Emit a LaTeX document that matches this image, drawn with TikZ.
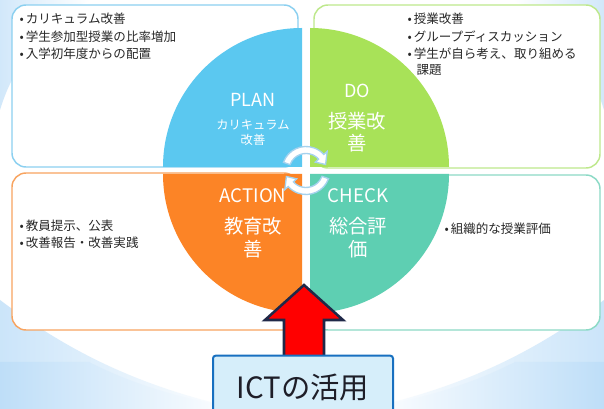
\documentclass[tikz,border=0pt]{standalone}
\usepackage{fontspec}
\setmainfont{Noto Sans CJK JP}

\definecolor{planblue}{RGB}{91,200,240}
\definecolor{dogreen}{RGB}{168,226,88}
\definecolor{actorange}{RGB}{252,132,38}
\definecolor{checkteal}{RGB}{94,207,178}
\definecolor{planedge}{RGB}{140,208,240}
\definecolor{doedge}{RGB}{190,232,140}
\definecolor{actedge}{RGB}{248,164,96}
\definecolor{checkedge}{RGB}{140,218,198}
\definecolor{bgblue}{RGB}{190,222,248}
\definecolor{cycleblue}{RGB}{165,210,238}
\definecolor{ictfill}{RGB}{214,238,250}
\definecolor{ictedge}{RGB}{24,112,192}
\definecolor{arrowedge}{RGB}{32,40,72}
\definecolor{textgray}{RGB}{40,40,40}

\tikzset{every picture/.style={line width=0.75pt}}
\tikzset{
  listbox/.style={draw=#1, fill=white, rounded corners=10.5pt, line width=1.1pt},
  quarter/.style={fill=#1, draw=none},
  itemtext/.style={anchor=west, inner sep=0pt, text=textgray, font=\fontsize{9.4}{11}\selectfont},
  phase/.style={text=white, inner sep=0pt, font=\fontsize{#1}{16}\selectfont},
  phasejp/.style={text=white, inner sep=0pt, align=center, font=\fontsize{14.5}{17}\selectfont},
  cyclearrow/.style={fill=white, draw=cycleblue, line width=1pt},
}

\begin{document}
\begin{tikzpicture}[x=0.75pt,y=0.75pt,yscale=-1,xscale=1]
\useasboundingbox (0,0) rectangle (604,409);
\clip (0,0) rectangle (604,409);

%Background
\fill[white] (0,0) rectangle (604,409);
\shade[left color=bgblue!70, right color=white] (0,0) -- (90,0) .. controls (50,20) and (15,60) .. (0,110) -- cycle;
\shade[left color=white, right color=bgblue!70] (604,0) -- (514,0) .. controls (554,20) and (589,60) .. (604,110) -- cycle;
\shade[left color=bgblue!80, right color=white] (0,300) .. controls (60,345) and (130,385) .. (240,409) -- (0,409) -- cycle;
\shade[left color=white, right color=bgblue!80] (604,300) .. controls (544,345) and (474,385) .. (364,409) -- (604,409) -- cycle;
\shade[left color=bgblue, right color=white] (0,362) -- (89,362) .. controls (140,388) and (190,400) .. (240,409) -- (0,409) -- cycle;
\shade[left color=white, right color=bgblue] (604,362) -- (515,362) .. controls (464,388) and (414,400) .. (364,409) -- (604,409) -- cycle;

%Shape: Rounded Rectangles
\draw[listbox=planedge] (12,5) rectangle (298,167);
\draw[listbox=doedge] (314,5) rectangle (600,168);
\draw[listbox=actedge] (12,173) rectangle (298,330);
\draw[listbox=checkedge] (314,175) rectangle (600,330);

%Shape: Quarter circles
\fill[quarter=planblue] (302,167) -- ++(180:139) arc[start angle=180, end angle=270, radius=139] -- cycle;
\fill[quarter=dogreen] (310,167) -- ++(270:139) arc[start angle=270, end angle=360, radius=139] -- cycle;
\fill[quarter=checkteal] (310,174) -- ++(0:139) arc[start angle=0, end angle=90, radius=139] -- cycle;
\fill[quarter=actorange] (302,174) -- ++(90:139) arc[start angle=90, end angle=180, radius=139] -- cycle;

%Cycle arrows
\begin{scope}[shift={(306,170.5)}]
\draw[cyclearrow] (200:24) arc[start angle=200, end angle=318, radius=24] -- (318:28.5) -- (343:20.5) -- (318:12.5) -- (318:17) arc[start angle=318, end angle=200, radius=17] -- cycle;
\draw[cyclearrow] (20:24) arc[start angle=20, end angle=138, radius=24] -- (138:28.5) -- (163:20.5) -- (138:12.5) -- (138:17) arc[start angle=138, end angle=20, radius=17] -- cycle;
\end{scope}

% Text Node
\node[phase=13.5] (plan) at (253,100) {PLAN};
\node[text=white, inner sep=0pt, align=center, font=\fontsize{9.2}{11.25}\selectfont] (plansub) at (253,132.5) {カリキュラム\\改善};
% Text Node
\node[phase=13.5] (do) at (357,91) {DO};
\node[phasejp, font=\fontsize{14.5}{16.5}\selectfont] (dosub) at (357,132) {授業改\\善};
% Text Node
\node[phase=14] (action) at (253,196) {ACTION};
\node[phasejp] (actionsub) at (253,237.5) {教育改\\善};
% Text Node
\node[phase=14] (check) at (358,196) {CHECK};
\node[phasejp] (checksub) at (358,237.5) {総合評\\価};

% Text Node
\node[itemtext] (plan1) at (19,19) {•\hspace{1.5pt}カリキュラム改善};
\node[itemtext] (plan2) at (19,37) {•\hspace{1.5pt}学生参加型授業の比率増加};
\node[itemtext] (plan3) at (19,54) {•\hspace{1.5pt}入学初年度からの配置};
% Text Node
\node[itemtext] (do1) at (407,19) {•\hspace{1.5pt}授業改善};
\node[itemtext] (do2) at (407,37) {•\hspace{1.5pt}グループディスカッション};
\node[itemtext] (do3) at (407,54) {•\hspace{1.5pt}学生が自ら考え、取り組める};
\node[itemtext] (do4) at (416,70) {課題};
% Text Node
\node[itemtext] (act1) at (19,226) {•\hspace{1.5pt}教員提示、公表};
\node[itemtext] (act2) at (19,243) {•\hspace{1.5pt}改善報告・改善実践};
% Text Node
\node[itemtext] (check1) at (444,229) {•\hspace{1.5pt}組織的な授業評価};

%Shape: Up Arrow
\draw[fill={rgb,255:red,255;green,0;blue,0}, draw=arrowedge, line width=1.9pt, line join=miter]
  (304,285) -- (343,320) -- (324,320) -- (324,360) -- (284,360) -- (284,320) -- (265,320) -- cycle;

% Text Node
\node[draw=ictedge, fill=ictfill, rounded corners=2pt, line width=1.5pt, minimum width=135pt, minimum height=47pt, inner sep=0pt, text={rgb,255:red,30;green,30;blue,40}, font=\fontsize{22}{26}\selectfont] (ict) at (303,387) {ICTの活用};

\end{tikzpicture}
\end{document}
